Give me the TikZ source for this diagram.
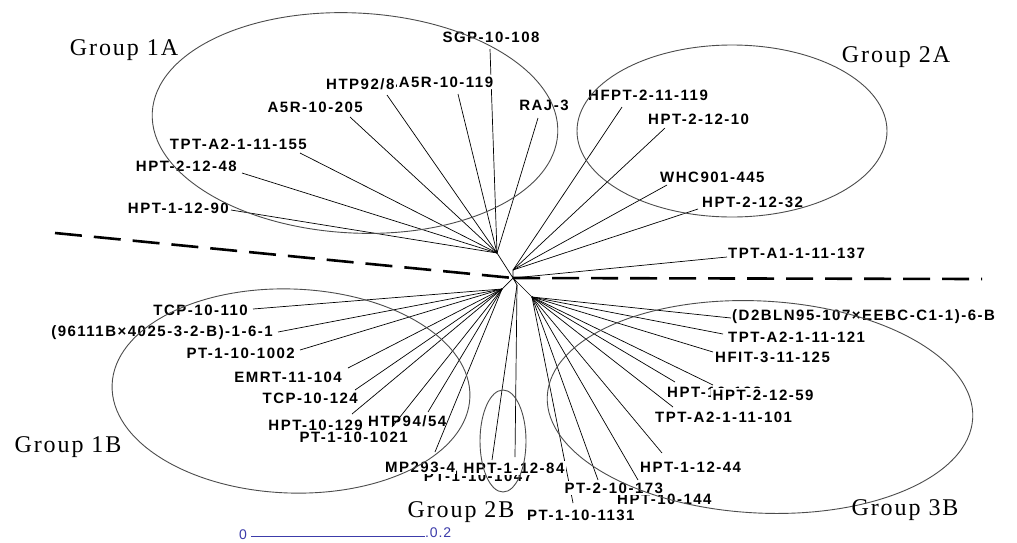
\documentclass[tikz,border=0pt]{standalone}
\usepackage{fontspec}
\newfontfamily\labfont[LetterSpace=10]{Liberation Sans}
\newfontfamily\grpfont[LetterSpace=8]{Liberation Serif}
\newfontfamily\barfont[LetterSpace=6]{Liberation Sans}
\definecolor{ellgray}{gray}{0.3}
\definecolor{barblue}{RGB}{60,60,170}
\begin{document}
\begin{tikzpicture}[x=1pt,y=-1pt,
  lab/.style={font=\labfont\bfseries\fontsize{15}{17}\selectfont, inner sep=1pt},
  cover/.style={lab, fill=white, inner sep=1.5pt},
  grp/.style={font=\grpfont\fontsize{24}{27}\selectfont, inner sep=0pt},
  br/.style={draw=black, line width=0.7pt},
  grpell/.style={draw=ellgray, line width=0.9pt},
  divider/.style={draw=black, line width=2.6pt, dash pattern=on 27pt off 12pt},
  barline/.style={draw=barblue, line width=0.8pt},
  bartext/.style={font=\barfont\fontsize{14}{16}\selectfont, text=barblue, inner sep=0pt}
]
\fill[white] (0,0) rectangle (1017,542);
\useasboundingbox (0,0) rectangle (1017,542);

% hubs
\coordinate (c) at (513,278);
\coordinate (ha) at (497,253);
\coordinate (hb) at (513,270);
\coordinate (hd) at (502,289);
\coordinate (he) at (532,297);
\coordinate (hf) at (517,285);

% divider
\coordinate (dl) at (55,233);
\coordinate (dr) at (982,279);
\draw[divider] (dl) -- (c);
\draw[divider] (c) -- (dr);

% tips
\coordinate (tSGP) at (490,49);
\coordinate (tHTP92) at (387,95);
\coordinate (tA119) at (458,94);
\coordinate (tRAJ) at (538,118);
\coordinate (tA205) at (350,117);
\coordinate (tT155) at (300,153);
\coordinate (tH48) at (242,173);
\coordinate (tH90) at (231,210);
\coordinate (tHF) at (622,107);
\coordinate (tH10) at (665,128);
\coordinate (tWHC) at (667,185);
\coordinate (tH32) at (698,209);
\coordinate (tT137) at (727,257);
\coordinate (tC110) at (253,309);
\coordinate (t961) at (278,332);
\coordinate (tP1002) at (300,350);
\coordinate (tEM) at (348,368);
\coordinate (tC124) at (355,390);
\coordinate (tH129) at (352,414);
\coordinate (tP1021) at (392,427);
\coordinate (tH94) at (428,412);
\coordinate (tMP) at (435,452);
\coordinate (tP1047) at (492,460);
\coordinate (tH84) at (515,457);
\coordinate (tD2) at (731,318);
\coordinate (tT121) at (723,334);
\coordinate (tHF125) at (713,352);
\coordinate (tH133) at (675,382);
\coordinate (tH59) at (713,385);
\coordinate (tT101) at (673,407);
\coordinate (tH44) at (662,453);
\coordinate (tH144) at (638,480);
\coordinate (tP173) at (598,480);
\coordinate (tP1131) at (573,503);

% branches
\draw[br] (c) -- (ha) (c) -- (hb) (c) -- (hd) (c) -- (he) (c) -- (hf);
\foreach \t in {tSGP,tHTP92,tA119,tRAJ,tA205,tT155,tH48,tH90}
  \draw[br] (ha) -- (\t);
\foreach \t in {tHF,tH10,tWHC,tH32}
  \draw[br] (hb) -- (\t);
\draw[br] (c) -- (tT137);
\foreach \t in {tC110,t961,tP1002,tEM,tC124,tH129,tP1021,tH94,tMP}
  \draw[br] (hd) -- (\t);
\foreach \t in {tP1047,tH84}
  \draw[br] (hf) -- (\t);
\foreach \t in {tD2,tT121,tHF125,tH133,tH59,tT101,tH44,tH144,tP173,tP1131}
  \draw[br] (he) -- (\t);

% labels group 1A
\node[lab] (SGP) at (491,37) {SGP-10-108};
\node[lab, anchor=west] (HTP92) at (325,84) {HTP92/84};
\node[cover] (A119) at (446,82) {A5R-10-119};
\node[lab] (RAJ) at (544,105) {RAJ-3};
\node[lab, anchor=east] (A205) at (364,107) {A5R-10-205};
\node[lab, anchor=east] (T155) at (308,144) {TPT-A2-1-11-155};
\node[lab, anchor=east] (H48) at (238,166) {HPT-2-12-48};
\node[lab, anchor=east] (H90) at (230,208) {HPT-1-12-90};
% group 2A
\node[lab, anchor=west] (HF) at (587,95) {HFPT-2-11-119};
\node[lab, anchor=west] (H10) at (647,119) {HPT-2-12-10};
\node[lab, anchor=west] (WHC) at (659,177) {WHC901-445};
\node[lab, anchor=west] (H32) at (701,202) {HPT-2-12-32};
\node[lab, anchor=west] (T137) at (727,253) {TPT-A1-1-11-137};
% group 1B
\node[lab, anchor=east] (C110) at (249,310) {TCP-10-110};
\node[lab, anchor=east] (N961) at (274,333) {(96111B×4025-3-2-B)-1-6-1};
\node[lab, anchor=east] (P1002) at (296,353) {PT-1-10-1002};
\node[lab, anchor=east] (EM) at (343,377) {EMRT-11-104};
\node[lab, anchor=east] (C124) at (359,398) {TCP-10-124};
\node[lab, anchor=east] (H129) at (364,425) {HPT-10-129};
\node[lab, anchor=east] (P1021) at (409,437) {PT-1-10-1021};
\node[lab, anchor=west] (H94) at (367,421) {HTP94/54};
% group 2B
\node[lab] (P1047) at (478,476) {PT-1-10-1047};
\node[cover] (MP) at (420,467) {MP293-4};
\node[cover] (H84) at (514,468) {HPT-1-12-84};
% group 3B
\node[lab, anchor=west] (D2) at (731,317) {(D2BLN95-107×EEBC-C1-1)-6-B};
\node[lab, anchor=west] (T121) at (727,337) {TPT-A2-1-11-121};
\node[lab, anchor=west] (HF125) at (714,357) {HFIT-3-11-125};
\node[lab, anchor=west] (H133) at (666,392) {HPT-10-133};
\node[cover, anchor=west] (H59) at (711,395) {HPT-2-12-59};
\node[lab, anchor=west] (T101) at (654,417) {TPT-A2-1-11-101};
\node[lab, anchor=west] (H44) at (639,467) {HPT-1-12-44};
\node[lab, anchor=west] (H144) at (616,499) {HPT-10-144};
\node[cover, anchor=west] (P173) at (563,488) {PT-2-10-173};
\node[lab, anchor=west] (P1131) at (526,515) {PT-1-10-1131};

% group ellipses
\draw[grpell, rotate around={-3:(355,123)}] (355,123) ellipse [x radius=203, y radius=110];
\draw[grpell] (732,131) ellipse [x radius=155, y radius=86];
\draw[grpell, rotate around={-2:(291,391)}] (291,391) ellipse [x radius=179, y radius=102];
\draw[grpell] (503,441) ellipse [x radius=23, y radius=51];
\draw[grpell, rotate around={-3:(760,407)}] (760,407) ellipse [x radius=213, y radius=106];

% group labels
\node[grp] (G1A) at (124,50) {Group 1A};
\node[grp] (G2A) at (896,57) {Group 2A};
\node[grp] (G1B) at (68,447) {Group 1B};
\node[grp] (G2B) at (461,512) {Group 2B};
\node[grp] (G3B) at (905,510) {Group 3B};

% scale bar
\node[bartext] (s0) at (243,535) {0};
\node[bartext, anchor=west] (s2) at (425,533) {.0.2};
\draw[barline] (s0.east) ++(4,1) coordinate (b0) -- (b0 -| s2.west);
\end{tikzpicture}
\end{document}
